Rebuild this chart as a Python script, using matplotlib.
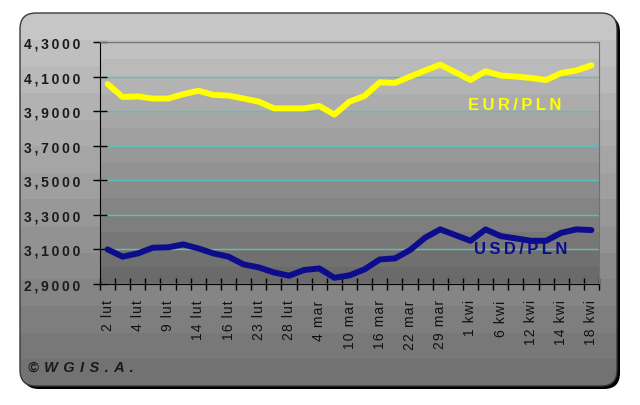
import numpy as np
import matplotlib.pyplot as plt
from matplotlib.patches import FancyBboxPatch

plt.rcParams['font.family'] = ['Liberation Sans', 'DejaVu Sans']

# category labels (only every second day is labelled)
labels = ['2 lut', '', '4 lut', '', '9 lut', '', '14 lut', '', '16 lut', '',
          '23 lut', '', '28 lut', '', '4 mar', '', '10 mar', '', '16 mar', '',
          '22 mar', '', '29 mar', '', '1 kwi', '', '6 kwi', '', '12 kwi', '',
          '14 kwi', '', '18 kwi']

eur_pln = [4.057, 3.982, 3.985, 3.973, 3.973, 3.998, 4.018, 3.994, 3.990, 3.973,
           3.955, 3.916, 3.916, 3.916, 3.930, 3.880, 3.955, 3.988, 4.067, 4.063,
           4.100, 4.135, 4.169, 4.125, 4.080, 4.131, 4.106, 4.100, 4.092, 4.080,
           4.120, 4.135, 4.165]

usd_pln = [3.100, 3.058, 3.077, 3.110, 3.112, 3.129, 3.106, 3.077, 3.058, 3.013,
           2.996, 2.967, 2.948, 2.981, 2.990, 2.936, 2.950, 2.985, 3.042, 3.048,
           3.096, 3.168, 3.216, 3.183, 3.150, 3.216, 3.177, 3.164, 3.150, 3.150,
           3.196, 3.216, 3.212]

y_ticks = [2.9, 3.1, 3.3, 3.5, 3.7, 3.9, 4.1, 4.3]

EUR_COL = '#ffff00'
USD_COL = '#0c0c8c'


def spaced(s, sep='\u2009'):
    return sep.join(s)


def bands(top, bottom, n=14, rows=140):
    vals = np.repeat(np.linspace(top, bottom, n), rows // n) / 255.0
    return np.dstack([vals, vals, vals]).reshape(-1, 1, 3)


fig = plt.figure(figsize=(6.4, 4.06), dpi=100)

# background in pixel coordinates
bg = fig.add_axes([0, 0, 1, 1])
shadow = FancyBboxPatch((23, 17), 597, 373, boxstyle='round,pad=0,rounding_size=16',
                        fc='black', ec='none', zorder=-1)
bg.add_patch(shadow)
frame = FancyBboxPatch((20, 14), 597, 373, boxstyle='round,pad=0,rounding_size=16',
                       fc='none', ec='#3a3a3a', lw=1, zorder=3)
bg.add_patch(frame)
im = bg.imshow(bands(198, 114), extent=[20, 617, 387, 14], aspect='auto',
               interpolation='nearest', zorder=0)
im.set_clip_path(frame)
bg.imshow(bands(193, 106), extent=[100, 599, 285, 43], aspect='auto',
          interpolation='nearest', zorder=1)
bg.set_xlim(0, 640)
bg.set_ylim(406, 0)
bg.axis('off')
bg.text(28, 368, spaced('©WGIS.A.', ' \u200a'), fontsize=10.5, fontstyle='italic',
        fontweight='bold', color='#1a1a1a', va='center', zorder=4)

# chart
ax = fig.add_axes([100 / 640, 1 - 285 / 406, 499 / 640, 242 / 406])
ax.set_facecolor('none')
x = np.arange(len(labels))
ax.plot(x, eur_pln, color=EUR_COL, lw=4.3, solid_capstyle='round', solid_joinstyle='round')
ax.plot(x, usd_pln, color=USD_COL, lw=4.3, solid_capstyle='round', solid_joinstyle='round')

ax.set_xlim(-0.5, len(labels) - 0.5)
ax.set_ylim(2.9, 4.3)
ax.set_yticks(y_ticks)
ax.set_yticklabels([spaced(f'{v:.4f}'.replace('.', ',')) for v in y_ticks],
                   fontsize=10, fontweight='bold', color='#1a1a1a')
ax.yaxis.grid(True, color='#5ebdbd', lw=1)
ax.set_axisbelow(True)

ax.set_xticks(x)
ax.set_xticklabels([spaced(s, '\u200a') for s in labels], rotation=90, fontsize=10,
                   color='#111111', va='top')
ax.set_xticks(np.arange(-0.5, len(labels), 1), minor=True)
ax.tick_params(axis='x', which='major', length=0, pad=11)
ax.tick_params(axis='x', which='minor', direction='inout', length=8, width=1)
ax.tick_params(axis='y', direction='inout', length=10, width=1, pad=9)

for side in ['top', 'right']:
    ax.spines[side].set_color('#707070')
for side in ['left', 'bottom']:
    ax.spines[side].set_color('black')

ax.text(26.9, 3.936, spaced('EUR/PLN'), color=EUR_COL, fontsize=12,
        fontweight='bold', ha='center', va='center')
ax.text(27.3, 3.108, spaced('USD/PLN'), color=USD_COL, fontsize=12,
        fontweight='bold', ha='center', va='center')

fig.savefig('out.png', dpi=100)
